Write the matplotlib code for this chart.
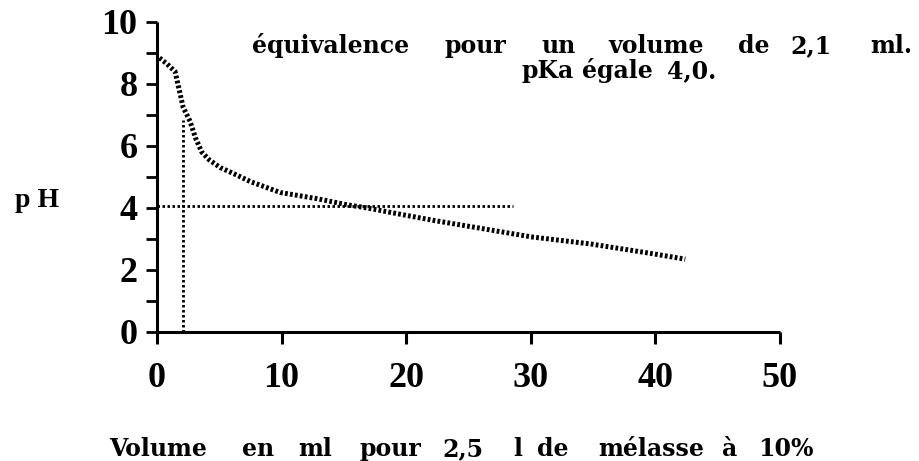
import matplotlib
matplotlib.use("Agg")
import matplotlib.pyplot as plt
from matplotlib.ticker import MultipleLocator

plt.rcParams['font.family'] = ['Liberation Serif', 'DejaVu Serif']
plt.rcParams['font.weight'] = 'bold'

# titration curve: pH against added volume (ml)
volume = [0.2, 0.8, 1.45, 2.1, 2.65, 3.1, 3.6, 4.2, 5.1, 6.2, 7.5, 9.9,
          12.85, 15.3, 16.9, 19.5, 22.2, 25.9, 30.0, 34.8, 39.4, 42.4]
ph = [8.84, 8.65, 8.4, 7.25, 6.8, 6.25, 5.8, 5.55, 5.3, 5.1, 4.85, 4.5,
      4.3, 4.1, 4.0, 3.8, 3.6, 3.35, 3.07, 2.84, 2.55, 2.35]

# equivalence point and pKa guide lines
v_eq = 2.1
ph_eq = 6.85
pka_line = 4.05
pka_end = 28.6

x_ticks = [0, 10, 20, 30, 40, 50]
y_ticks = [0, 2, 4, 6, 8, 10]

note1 = ['équivalence', 'pour', 'un', 'volume', 'de', '2,1', 'ml.']
note2 = ['pKa', 'égale', '4,0.']
xlabel_words = ['Volume', 'en', 'ml', 'pour', '2,5', 'l', 'de', 'mélasse', 'à', '10%']

W, H = 920, 461

fig = plt.figure(figsize=(9.2, 4.61), dpi=100)
ax = fig.add_axes([157/W, 1-332/H, (780-157)/W, (332-22)/H])

ax.plot(volume, ph, color='black', lw=3.6, linestyle=(0, (0.55, 0.45)),
        solid_capstyle='butt', dash_capstyle='butt')
ax.plot([v_eq, v_eq], [0, ph_eq], color='black', lw=2.0,
        linestyle=(0, (0.9, 0.9)), dash_capstyle='butt')
ax.plot([0, pka_end], [pka_line, pka_line], color='black', lw=2.0,
        linestyle=(0, (0.9, 0.9)), dash_capstyle='butt')

ax.set_xlim(0, 50)
ax.set_ylim(0, 10)
ax.spines['top'].set_visible(False)
ax.spines['right'].set_visible(False)
ax.spines['left'].set_linewidth(2.2)
ax.spines['bottom'].set_linewidth(2.2)
for s in ('left', 'bottom'):
    ax.spines[s].set_capstyle('butt')

ax.set_xticks(x_ticks)
ax.set_yticks(y_ticks)
ax.yaxis.set_minor_locator(MultipleLocator(1))
ax.tick_params(axis='x', which='major', direction='out', length=8.5, width=2.2,
               pad=13, labelsize=26)
ax.tick_params(axis='y', which='major', direction='out', length=8, width=2.0,
               pad=6, labelsize=26)
ax.tick_params(axis='y', which='minor', direction='out', length=8, width=2.0)

fig.text(37/W, 1-200/H, 'p H', ha='center', va='center', fontsize=20,
         fontweight='bold')


def put_words(words, starts, base_y, size=17):
    # words laid out one by one, left edges in pixels from the top-left corner
    for w, x0 in zip(words, starts):
        fig.text(x0/W, 1-base_y/H, w, ha='left', va='baseline',
                 fontsize=size, fontweight='bold', family='DejaVu Serif')


put_words(note1, [252, 445, 542, 608, 738, 790, 870], 53)
put_words(note2, [522, 582, 667], 78)
put_words(xlabel_words,
          [109, 242, 298, 360, 442, 513, 537, 598, 722, 758], 456)

fig.savefig('out.png', dpi=100)
